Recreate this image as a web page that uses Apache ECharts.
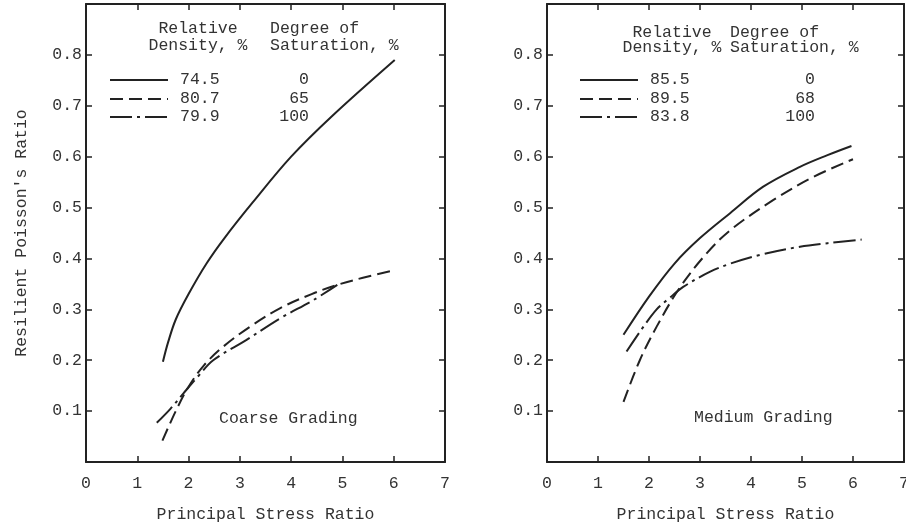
<!DOCTYPE html>
<html><head><meta charset="utf-8">
<script src="https://cdn.jsdelivr.net/npm/echarts@6/dist/echarts.min.js"></script>
<style>html,body{margin:0;padding:0;background:#fff}#c{width:906px;height:529px}</style>
</head><body><div id="c"></div>
<script>
// ---- data ----
var xTicks = [0,1,2,3,4,5,6,7];
var yTickLabels = ['0.1','0.2','0.3','0.4','0.5','0.6','0.7','0.8'];
var panelTitles = ['Coarse Grading','Medium Grading'];
var xAxisTitle = 'Principal Stress Ratio';
var yAxisTitle = "Resilient Poisson's Ratio";
var headerDensity = ['Relative','Density, %'];
var headerSaturation = ['Degree of','Saturation, %'];

var coarseDensity = ['74.5','80.7','79.9'];
var coarseSaturation = ['0','65','100'];
var mediumDensity = ['85.5','89.5','83.8'];
var mediumSaturation = ['0','68','100'];

var coarseSolid = [[1.5,0.197],[1.6,0.235],[1.75,0.28],[2.0,0.33],[2.35,0.39],[2.7,0.44],[3.25,0.51],[4.0,0.60],[4.8,0.68],[6.02,0.79]];
var coarseDashed = [[1.49,0.042],[1.75,0.10],[2.0,0.148],[2.3,0.19],[2.68,0.227],[3.2,0.266],[3.78,0.302],[4.4,0.33],[4.9,0.348],[5.4,0.362],[6.02,0.377]];
var coarseDashDot = [[1.38,0.077],[1.65,0.105],[1.9,0.135],[2.2,0.17],[2.48,0.2],[3.13,0.24],[3.78,0.282],[4.43,0.318],[4.9,0.348]];

var mediumSolid = [[1.5,0.25],[2.0,0.325],[2.5,0.39],[3.0,0.44],[3.59,0.489],[4.24,0.541],[4.96,0.58],[5.5,0.603],[5.97,0.621]];
var mediumDashed = [[1.5,0.118],[1.82,0.20],[2.15,0.266],[2.6,0.342],[3.13,0.41],[3.6,0.456],[4.44,0.515],[5.22,0.56],[6.0,0.595]];
var mediumDashDot = [[1.56,0.217],[1.85,0.26],[2.15,0.30],[2.4,0.322],[2.67,0.344],[3.2,0.374],[3.6,0.39],[4.18,0.407],[4.96,0.423],[5.5,0.43],[6.17,0.437]];

// ---- style ----
var FONT = '"Liberation Mono", "DejaVu Sans Mono", monospace';
var FS = 16.5;
var TXT = '#333';
var LINE = '#222';
var DASH = [13, 6];
var DASHDOT = [22, 5, 3, 5];

var grids = [
  {left: 86, top: 4, width: 359, height: 458, outerBoundsMode: 'none', containLabel: false},
  {left: 547, top: 4, width: 357, height: 458, outerBoundsMode: 'none', containLabel: false}
];

function xAx(gi, pos, labels, name) {
  return {
    type: 'value', gridIndex: gi, position: pos, min: 0, max: 7, interval: 1,
    axisLine: {show: true, onZero: false, lineStyle: {color: LINE, width: 2}},
    axisTick: {show: true, inside: true, length: 6, lineStyle: {color: LINE, width: 1.5}},
    axisLabel: {show: labels, margin: 13, color: TXT, fontFamily: FONT, fontSize: FS},
    splitLine: {show: false},
    name: name || '', nameLocation: 'middle', nameGap: 44,
    nameTextStyle: {color: TXT, fontFamily: FONT, fontSize: FS}
  };
}
function yAx(gi, pos, labels, name) {
  return {
    type: 'value', gridIndex: gi, position: pos, min: 0, max: 0.9, interval: 0.1,
    axisLine: {show: true, onZero: false, lineStyle: {color: LINE, width: 2}},
    axisTick: {show: true, inside: true, length: 6, lineStyle: {color: LINE, width: 1.5},
      interval: function (i, v) { return v > 0 && v < 0.85; }},
    axisLabel: {show: labels, margin: 4, color: TXT, fontFamily: FONT, fontSize: FS,
      formatter: function (v) {
        var s = v.toFixed(1);
        return yTickLabels.indexOf(s) >= 0 ? s : '';
      }},
    splitLine: {show: false},
    name: name || '', nameLocation: 'middle', nameGap: 56,
    nameTextStyle: {color: TXT, fontFamily: FONT, fontSize: FS}
  };
}

function curve(name, data, gi, dash) {
  return {
    type: 'line', name: name, data: data, xAxisIndex: gi, yAxisIndex: gi,
    smooth: 0.35, symbol: 'none', silent: true,
    lineStyle: {color: LINE, width: 2, type: dash || 'solid'}
  };
}

function txt(x, y, s, align) {
  return {type: 'text', x: x, y: y, style: {text: s, font: FS + 'px ' + FONT, fill: TXT, align: align, verticalAlign: 'middle'}};
}

// legend graphics built from arrays
function legendGraphics(x0, lineLen, valX, satRight, hdrCenter, hdrLeft, hdrY, rowY, dens, sats) {
  var els = [];
  var dashes = ['solid', DASH, DASHDOT];
  els.push(txt(hdrCenter, hdrY[0], headerDensity[0], 'center'));
  els.push(txt(hdrCenter, hdrY[1], headerDensity[1], 'center'));
  els.push(txt(hdrLeft, hdrY[0], headerSaturation[0], 'left'));
  els.push(txt(hdrLeft, hdrY[1], headerSaturation[1], 'left'));
  for (var i = 0; i < dens.length; i++) {
    var y = rowY[i];
    var st = {stroke: LINE, lineWidth: 2};
    if (dashes[i] !== 'solid') st.lineDash = dashes[i];
    els.push({type: 'line', shape: {x1: x0, y1: y, x2: x0 + lineLen, y2: y}, style: st});
    els.push(txt(valX, y, dens[i], 'left'));
    els.push(txt(satRight, y, sats[i], 'right'));
  }
  return els;
}

var graphics = []
  .concat(legendGraphics(110, 58, 180, 309, 198, 270, [29, 46], [80, 99, 117], coarseDensity, coarseSaturation))
  .concat(legendGraphics(580, 58, 650, 815, 672, 730, [33, 48], [80, 99, 117], mediumDensity, mediumSaturation));
graphics.push(txt(219, 419, panelTitles[0], 'left'));
graphics.push(txt(694, 418, panelTitles[1], 'left'));

var option = {
  animation: false,
  backgroundColor: '#fff',
  grid: grids,
  xAxis: [xAx(0, 'bottom', true, xAxisTitle), xAx(1, 'bottom', true, xAxisTitle), xAx(0, 'top', false), xAx(1, 'top', false)],
  yAxis: [yAx(0, 'left', true, yAxisTitle), yAx(1, 'left', true), yAx(0, 'right', false), yAx(1, 'right', false)],
  series: [
    curve(coarseDensity[0], coarseSolid, 0),
    curve(coarseDensity[1], coarseDashed, 0, DASH),
    curve(coarseDensity[2], coarseDashDot, 0, DASHDOT),
    curve(mediumDensity[0], mediumSolid, 1),
    curve(mediumDensity[1], mediumDashed, 1, DASH),
    curve(mediumDensity[2], mediumDashDot, 1, DASHDOT)
  ],
  graphic: graphics
};
var chart = echarts.init(document.getElementById('c'), null, {renderer: 'canvas'});
chart.setOption(option);
</script>
</body></html>
